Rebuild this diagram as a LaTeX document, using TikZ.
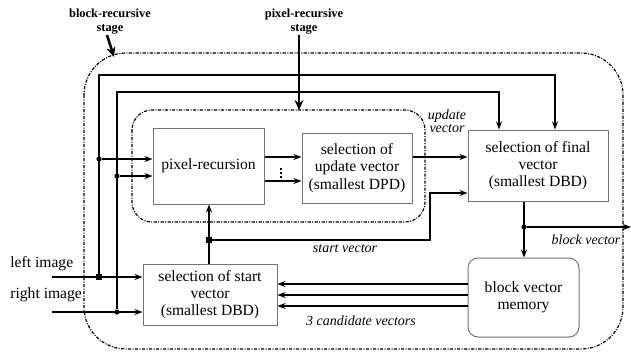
\documentclass[tikz,border=0pt]{standalone}
\usepackage{fontspec}
\setmainfont{Liberation Serif}
\usetikzlibrary{arrows.meta,positioning}
\tikzset{
  box/.style={draw=black!55,line width=0.5pt,align=center,inner sep=0pt,
    font=\fontsize{7.8}{8.6}\selectfont},
  sig/.style={line width=0.7pt,-{Stealth[length=4pt,width=3pt]}},
  stagearr/.style={line width=1.3pt,-{Stealth[length=5pt,width=4.5pt]}},
  stagebox/.style={line width=0.6pt,dash pattern=on 1.6pt off 0.7pt on 0.5pt off 0.7pt},
  jdot/.style={circle,fill,inner sep=0pt,minimum size=2.6pt},
  jsq/.style={rectangle,fill,inner sep=0pt,minimum size=2.8pt},
  lab/.style={align=center,inner sep=0pt,font=\fontsize{7}{6.5}\selectfont\itshape},
  hdr/.style={align=center,inner sep=0pt,font=\fontsize{6.2}{7}\selectfont\bfseries},
  txt/.style={inner sep=0pt,font=\fontsize{7.8}{8.6}\selectfont}
}
\begin{document}
\begin{tikzpicture}[x=0.5pt,y=-0.5pt]
\useasboundingbox (0,0) rectangle (631,354);
% the two stages
\draw[stagebox,rounded corners=21pt] (84,53) rectangle (623,349);
\draw[stagebox,rounded corners=10pt] (132,110) rectangle (425,222);
% blocks
\node[box,minimum width=55.5pt,minimum height=38pt] (pr) at (208.5,166) {pixel-recursion};
\node[box,minimum width=55pt,minimum height=35pt] (upd) at (357,168) {selection of\\update vector\\(smallest DPD)};
\node[box,minimum width=70pt,minimum height=35.5pt] (fin) at (538,165.5) {selection of final\\vector\\(smallest DBD)};
\node[box,minimum width=67pt,minimum height=30.5pt] (st) at (210,294.5) {selection of start\\vector\\(smallest DBD)};
\node[box,rounded corners=5pt,minimum width=55.5pt,minimum height=39.5pt] (mem) at (523.5,297.5) {block vector\\memory};
% inputs
\node[txt,anchor=west] (lt) at (10,264) {left image};
\node[txt,anchor=west] (rt) at (10,295) {right image};
\coordinate (li) at (52,277);
\coordinate (ri) at (52,312);
\node[jsq] (j1) at (99,277) {};
\node[jdot] (j2) at (117,312) {};
\node[jdot] (j3) at (99,159) {};
\node[jdot] (j4) at (117,176) {};
\coordinate (c2) at (555,75);
\coordinate (c4) at (499,92);
\draw[sig] (li) -- (st.west |- li);
\draw[sig] (ri) -- (st.west |- ri);
\draw[sig] (j1) |- (c2) -- (c2 |- fin.north);
\draw[sig] (j2) |- (c4) -- (c4 |- fin.north);
\draw[sig] (j3) -- (pr.west |- j3);
\draw[sig] (j4) -- (pr.west |- j4);
% pixel-recursive part
\draw[sig] (pr.east |- 0,157) -- (upd.west |- 0,157);
\draw[sig] (pr.east |- 0,181) -- (upd.west |- 0,181);
\draw[line width=0.7pt,dash pattern=on 1pt off 0.9pt] (281,168) -- (281,178);
\draw[sig] (upd.east |- 0,157) -- (fin.west |- 0,157);
\node[lab] (uv) at (447,121) {update\\vector};
% start vector
\node[jsq] (j5) at (209,240) {};
\draw[sig] (st.north -| j5) -- (pr.south -| j5);
\draw[sig] (j5) -- (430,240) |- (fin.west |- 0,193);
\node[lab] (sv) at (345,249) {start vector};
% block vector
\node[jdot] (j6) at (524,227) {};
\coordinate (bv) at (631,227);
\draw[sig] (fin.south -| j6) -- (mem.north -| j6);
\draw[sig] (j6) -- (bv);
\node[lab] (bvl) at (586,240) {block vector};
% candidates
\foreach \y in {284,295,306}
  \draw[sig] (mem.west |- 0,\y) -- (st.east |- 0,\y);
\node[lab] (cv) at (361,321) {3 candidate vectors};
% stage labels
\node[hdr] (brs) at (110,22) {block-recursive\\stage};
\node[hdr] (prs) at (304,22) {pixel-recursive\\stage};
\coordinate (oc) at (114,57);
\coordinate (ic) at (299,110);
\draw[stagearr] ([xshift=-1.5pt]brs.south) -- (oc);
\draw[stagearr] (prs.south -| ic) -- (ic);
\end{tikzpicture}
\end{document}
